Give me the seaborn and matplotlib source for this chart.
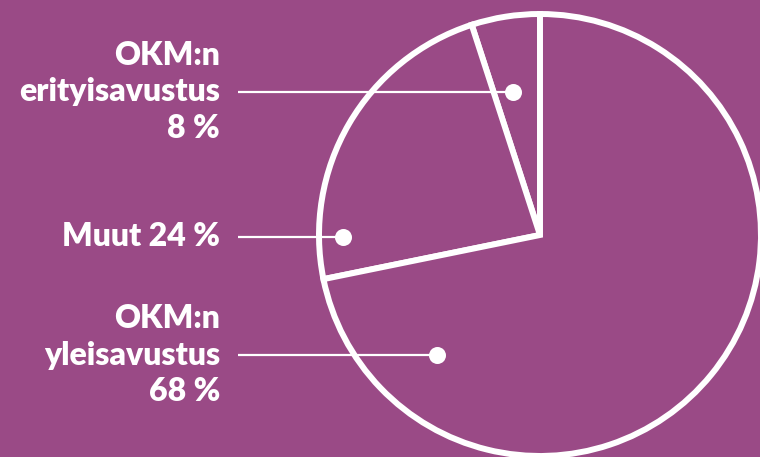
import matplotlib
matplotlib.use("Agg")
import matplotlib.pyplot as plt
import seaborn as sns

# labels and the percentages printed on the chart
labels = ["OKM:n\nerityisavustus\n8 %", "Muut 24 %", "OKM:n\nyleisavustus\n68 %"]
label_pct = [8, 24, 68]
# slice sizes as drawn in the original (the drawing is not to scale)
drawn_share = [5.0, 23.2, 71.8]

bg = "#9a4a86"
W, H = 760, 457

sns.set_theme(style="white")
plt.rcParams["font.family"] = ["Lato", "DejaVu Sans"]

fig = plt.figure(figsize=(W / 100, H / 100), dpi=100, facecolor=bg)
ax = fig.add_axes([0, 0, 1, 1])
ax.set_facecolor(bg)

# pie (pixel coordinates, y measured from bottom)
cx, cy, R = 540, H - 235, 221
ax.pie(
    drawn_share,
    colors=[bg] * 3,
    startangle=90,
    counterclock=True,
    center=(cx, cy),
    radius=R,
    frame=True,
    wedgeprops=dict(edgecolor="white", linewidth=4.3),
)
ax.set_xlim(0, W)
ax.set_ylim(0, H)
ax.set_aspect("equal")
ax.axis("off")

# label rows: (text y, dot x) in pixels from top
rows = [(92, 513), (237, 343), (355, 437)]
for lab, (ty, dx) in zip(labels, rows):
    y = H - ty
    ax.text(220, y, lab, ha="right", va="center", multialignment="right",
            color="white", fontsize=23, fontweight="heavy", linespacing=1.3)
    ax.plot([238, dx], [y, y], color="white", lw=1.6, solid_capstyle="butt")
    ax.scatter([dx], [y], s=150, color="white", zorder=5, linewidths=0)

fig.savefig("out.png", dpi=100, facecolor=bg)
